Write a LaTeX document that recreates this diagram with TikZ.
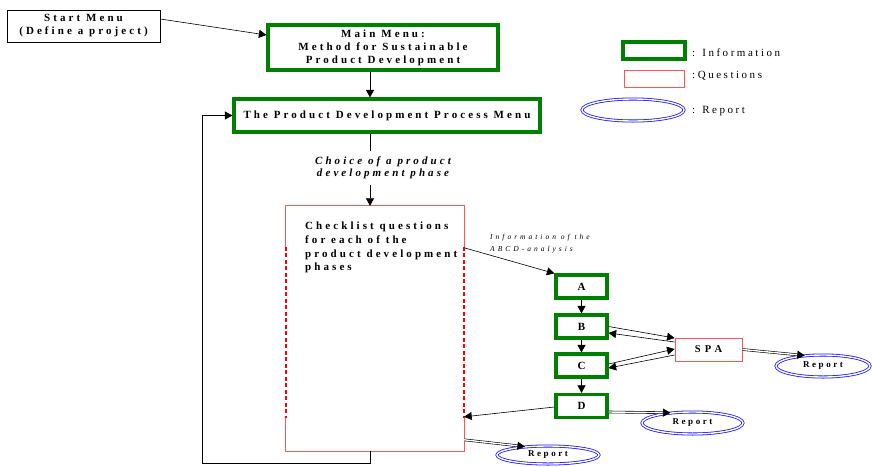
\documentclass[tikz,border=0pt]{standalone}
\usepackage{fontspec}
\setmainfont{Liberation Serif}
\newfontfamily\spfont[LetterSpace=28]{Liberation Serif}
\newfontfamily\spleg[LetterSpace=23]{Liberation Serif}
\newfontfamily\spwide[LetterSpace=40]{Liberation Serif}
\newfontfamily\spinfo[LetterSpace=40]{Liberation Serif}
\usetikzlibrary{arrows.meta,calc,shapes.geometric}

\definecolor{infogreen}{RGB}{0,128,0}
\definecolor{qred}{RGB}{255,85,85}
\definecolor{qdash}{RGB}{255,0,0}
\definecolor{repblue}{RGB}{25,25,255}

\tikzset{
  boldtxt/.style={font=\spfont\bfseries\fontsize{11}{13}\selectfont, align=center},
  plainbox/.style={draw=black, line width=0.8pt, inner sep=0pt},
  info/.style={draw=infogreen, line width=3.2pt, inner sep=0pt},
  quest/.style={draw=qred, line width=0.9pt, inner sep=0pt},
  report/.style={ellipse, draw=repblue, double=white, double distance=1.4pt,
    line width=0.8pt, inner sep=0pt,
    font=\spfont\bfseries\fontsize{9}{10}\selectfont},
  letter/.style={font=\bfseries\fontsize{11}{12}\selectfont},
  legtext/.style={font=\spleg\fontsize{11}{12}\selectfont, anchor=west, inner sep=0pt},
  arr/.style={-{Triangle[length=7.5pt,width=8pt]}, line width=0.6pt},
  dbl/.style={double, double distance=1.4pt, line width=0.6pt},
  dashside/.style={qdash, line width=2pt, dash pattern=on 4pt off 2.5pt},
}

\begin{document}
\begin{tikzpicture}[x=1pt, y=-1pt]
\useasboundingbox (0,0) rectangle (872,466);

% vertical spine of the main flow
\coordinate (spine) at (370,0);
\coordinate (loopb) at (0,463);
\coordinate (loopl) at (202,0);

% menus
\node[plainbox, boldtxt, minimum width=153pt, minimum height=32pt] (start) at (83.5,26)
  {Start Menu\\(Define a project)};
\node[info, boldtxt, minimum width=230pt, minimum height=45pt] (main) at (383,47.5)
  {Main Menu:\\Method for Sustainable\\Product Development};
\node[info, boldtxt, minimum width=306pt, minimum height=33pt] (pdp) at (387,115.5)
  {The Product Development Process Menu};

% phase choice label
\node[font=\spfont\bfseries\itshape\fontsize{11}{12.5}\selectfont, align=center,
  inner xsep=2pt, inner ysep=6pt] (choice) at (383,168)
  {Choice of a product\\development phase};

% checklist box (solid top and bottom, dashed sides)
\node[minimum width=178pt, minimum height=245pt, inner sep=0pt] (check) at (375,328.5) {};
\draw[qred, line width=0.9pt] ([yshift=-41pt]check.north west) -- (check.north west)
  -- (check.north east) -- ([yshift=-41pt]check.north east);
\draw[qred, line width=0.9pt] ([yshift=33pt]check.south west) -- (check.south west)
  -- (check.south east) -- ([yshift=33pt]check.south east);
\draw[dashside] ([yshift=-41pt]check.north west) -- ([yshift=33pt]check.south west);
\draw[dashside] ([yshift=-41pt]check.north east) -- ([yshift=33pt]check.south east);
\node[font=\spfont\bfseries\fontsize{11}{13.7}\selectfont, align=left, anchor=north west,
  inner sep=0pt] (checktxt) at (305,222)
  {Checklist questions\\for each of the\\product development\\phases};

% ABCD analysis
\node[font=\spinfo\itshape\fontsize{7.5}{12}\selectfont, align=left, anchor=north west,
  inner sep=0pt] (infolbl) at (490,234) {Information of the\\ABCD-analysis};
\node[info, letter, minimum width=51pt, minimum height=23pt] (A) at (581.5,286.5) {A};
\node[info, letter, minimum width=51pt, minimum height=23pt] (B) at (581.5,326.5) {B};
\node[info, letter, minimum width=51pt, minimum height=23pt] (C) at (581.5,365.5) {C};
\node[info, letter, minimum width=51pt, minimum height=23pt] (D) at (581.5,406) {D};
\node[quest, font=\spwide\bfseries\fontsize{10.5}{11}\selectfont,
  minimum width=67pt, minimum height=23pt] (spa) at (708.5,349.5) {SPA};

% reports
\node[report, minimum width=94pt, minimum height=22pt] (rep1) at (823,366) {Report};
\node[report, minimum width=101pt, minimum height=22pt] (rep2) at (692.5,423) {Report};
\node[report, minimum width=102pt, minimum height=18pt] (rep3) at (548,455) {Report};

% legend
\node[info, minimum width=62pt, minimum height=17pt] (legI) at (654,50.5) {};
\node[quest, minimum width=60pt, minimum height=17pt] (legQ) at (654,78.5) {};
\node[report, minimum width=102pt, minimum height=22pt] (legR) at (633,110) {};
\node[legtext] (legIt) at (692,53) {: Information};
\node[legtext] (legQt) at (692,76) {:Questions};
\node[legtext] (legRt) at (692,111) {: Report};

% connectors of the main flow
\draw[arr] ([yshift=7pt]start.east) -- ([yshift=12.5pt]main.west);
\draw[arr] (main.south -| spine) -- (pdp.north -| spine);
\draw[line width=0.6pt] (pdp.south -| spine) -- (choice.north -| spine);
\draw[arr] (choice.south -| spine) -- (check.north -| spine);
\draw[arr] (check.south -| spine) -- (spine |- loopb) -| (pdp.west -| loopl) -- (pdp.west);

% connectors of the ABCD analysis
\draw[arr] ([yshift=-42pt]check.north east) -- (A.north west);
\draw[arr] (A) -- (B);
\draw[arr] (B) -- (C);
\draw[arr] (C) -- (D);
\draw[arr] (B.east) -- ([yshift=11.5pt]spa.west);
\draw[arr] ([yshift=7.5pt]spa.west) -- ([yshift=-6.5pt]B.east);
\draw[arr] ([yshift=1.5pt]C.east) -- ([yshift=0.5pt]spa.west);
\draw[arr] ([yshift=-5.5pt]spa.west) -- ([yshift=-2.5pt]C.east);
\draw[arr] ([yshift=-1pt]D.west) -- ([yshift=-211pt]check.north east);

% double connectors into the reports
\draw[dbl, shorten >=6pt] (spa.east) -- (rep1.150);
\draw[arr] ($(rep1.150)!7.5pt!(spa.east)$) -- (rep1.150);
\draw[dbl, shorten >=6pt] ([yshift=-6pt]D.east) -- (rep2.155);
\draw[arr] ($(rep2.155)!7.5pt!([yshift=-6pt]D.east)$) -- (rep2.155);
\draw[dbl, shorten >=6pt] ([yshift=-234pt]check.north east) -- (rep3.160);
\draw[arr] ($(rep3.160)!7.5pt!([yshift=-234pt]check.north east)$) -- (rep3.160);
\end{tikzpicture}
\end{document}
